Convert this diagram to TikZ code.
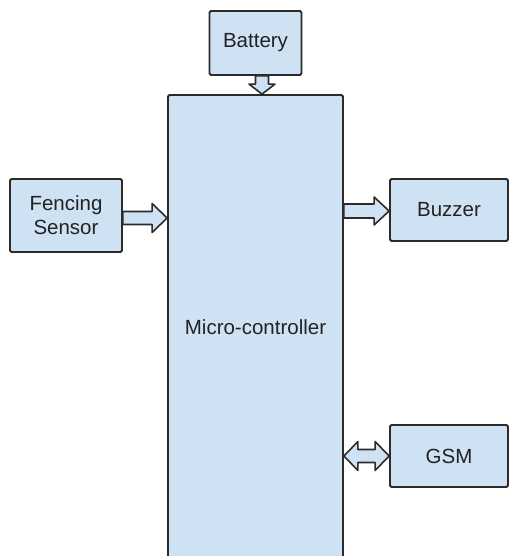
\documentclass[tikz,border=0pt]{standalone}
\usepackage{fontspec}
\setmainfont{Liberation Sans}
\usetikzlibrary{calc}
\definecolor{boxfill}{HTML}{CFE2F3}
\definecolor{boxline}{HTML}{2B2B2B}
\definecolor{txt}{HTML}{222222}
\tikzset{
  blk/.style={draw=boxline, fill=boxfill, line width=1.8pt, rounded corners=1.5pt, inner sep=0pt, text=txt, font=\fontsize{20.5}{24}\selectfont, align=center},
  barrow/.style={draw=boxline, fill=boxfill, line width=1.6pt, line join=round}
}
\begin{document}
\begin{tikzpicture}[x=1pt,y=-1pt]
\useasboundingbox (0,0) rectangle (510,556);
\fill[white] (0,0) rectangle (510,556);
% blocks
\node[blk, minimum width=175pt, minimum height=470pt] (mc) at (255.5,330) {};
\node[txt, font=\fontsize{20.5}{24}\selectfont] (mclabel) at (255.5,327) {Micro-controller};
\node[blk, minimum width=92pt, minimum height=64pt] (bat) at (255.5,43) {Battery};
\node[blk, minimum width=112pt, minimum height=73pt] (fen) at (66,215.5) {Fencing\\Sensor};
\node[blk, minimum width=118pt, minimum height=62pt] (buz) at (449,210) {Buzzer};
\node[blk, minimum width=118pt, minimum height=62pt] (gsm) at (449,456) {GSM};
% battery -> mc (down arrow)
\path let \p1=(bat.south), \p2=(mc.north) in
  coordinate (bs) at (\x1+6.5,\y1) coordinate (bt) at (\x1+6.5,\y2);
\draw[barrow] let \p1=(bs), \p2=(bt) in
  (\x1-6.5,\y1) -- (\x1+6.5,\y1) -- (\x1+6.5,\y2+10) -- (\x1+13,\y2+10) -- (\x1,\y2) -- (\x1-13,\y2+10) -- (\x1-6.5,\y2+10) -- cycle;
% fencing -> mc (right arrow)
\path let \p1=(fen.east), \p2=(mc.west) in
  coordinate (fs) at (\x1,218) coordinate (ft) at (\x2,218);
\draw[barrow] let \p1=(fs), \p2=(ft) in
  (\x1,\y1-6.5) -- (\x2-15,\y1-6.5) -- (\x2-15,\y1-14.5) -- (\x2,\y1) -- (\x2-15,\y1+14.5) -- (\x2-15,\y1+6.5) -- (\x1,\y1+6.5) -- cycle;
% mc -> buzzer
\path let \p1=(mc.east), \p2=(buz.west) in
  coordinate (zs) at (\x1,211) coordinate (zt) at (\x2,211);
\draw[barrow] let \p1=(zs), \p2=(zt) in
  (\x1,\y1-7) -- (\x2-15,\y1-7) -- (\x2-15,\y1-14) -- (\x2,\y1) -- (\x2-15,\y1+14) -- (\x2-15,\y1+7) -- (\x1,\y1+7) -- cycle;
% mc <-> gsm
\path let \p1=(mc.east), \p2=(gsm.west) in
  coordinate (gs) at (\x1,456) coordinate (gt) at (\x2,456);
\draw[barrow] let \p1=(gs), \p2=(gt) in
  (\x1,\y1) -- (\x1+14,\y1-14.5) -- (\x1+14,\y1-6.5) -- (\x2-14,\y1-6.5) -- (\x2-14,\y1-14.5) -- (\x2,\y1) -- (\x2-14,\y1+14.5) -- (\x2-14,\y1+6.5) -- (\x1+14,\y1+6.5) -- (\x1+14,\y1+14.5) -- cycle;
\end{tikzpicture}
\end{document}
